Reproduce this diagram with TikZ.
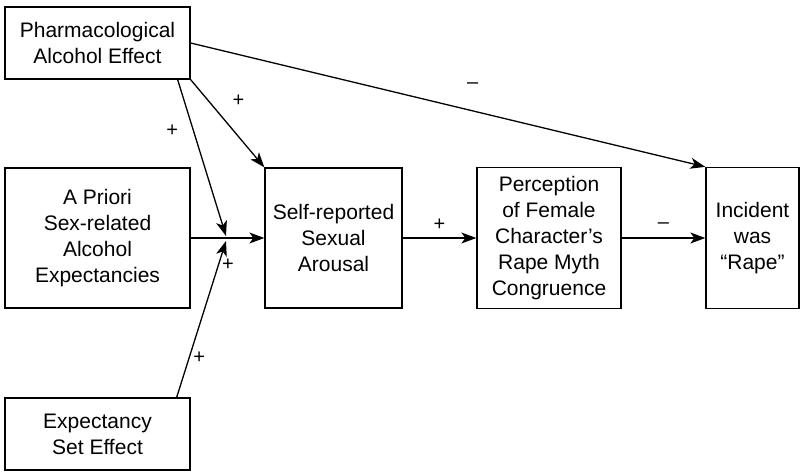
\documentclass[tikz,border=0pt]{standalone}
\usepackage{fontspec}
\setmainfont{Liberation Sans}
\usetikzlibrary{arrows.meta}

\begin{document}
\begin{tikzpicture}[x=1pt, y=-1pt,
        box/.style={draw, line width=1.3pt, align=center, inner sep=0pt, font=\fontsize{21}{26}\selectfont},
        sign/.style={inner sep=0pt, text height=0.6em, text depth=0pt, font=\fontsize{20}{24}\selectfont},
        link/.style={->, line width=1.3pt},
        >={Stealth[length=15pt, width=11pt, inset=4pt]}
    ]
    \useasboundingbox (0,0) rectangle (800,471);

    % Left column - the three predictors
    \node[box, minimum width=185pt, minimum height=72pt] (pharm) at (97.5,43) {Pharmacological\\Alcohol Effect};
    \node[box, minimum width=185pt, minimum height=140pt] (prior) at (97.5,238) {A Priori\\Sex-related\\Alcohol\\Expectancies};
    \node[box, minimum width=185pt, minimum height=72pt] (expect) at (97.5,434) {Expectancy\\Set Effect};

    % Right row - mediators and outcome
    \node[box, minimum width=137pt, minimum height=140pt] (arousal) at (333.5,238) {Self-reported\\Sexual\\Arousal};
    \node[box, minimum width=144pt, minimum height=141pt] (percep) at (549,238) {Perception\\of Female\\Character’s\\Rape Myth\\Congruence};
    \node[box, minimum width=93pt, minimum height=141pt] (incident) at (752.5,238) {Incident\\was\\“Rape”};

    \coordinate (jtop) at (226,236);
    \coordinate (jbot) at (226,241);

    \draw[link] ([xshift=-13pt]pharm.south east) -- node[sign, pos=0.344, xshift=-22pt] (s1) {+} (jtop);
    \draw[link] (pharm.south east) -- node[sign, pos=0.27, xshift=28pt] (s2) {+} (arousal.north west);
    \draw[link] (pharm.east) -- node[sign, pos=0.548, yshift=25pt] (s3) {–} (incident.north west);
    \draw[link] (prior.east) -- node[sign, pos=0.507, yshift=-29pt] (s4) {+} (arousal.west);
    \draw[link] ([xshift=-14pt]expect.north east) -- node[sign, pos=0.236, xshift=11pt] (s5) {+} (jbot);
    \draw[link] (arousal.east) -- node[sign, yshift=11pt] (s6) {+} (percep.west);
    \draw[link] (percep.east) -- node[sign, yshift=13pt] (s7) {–} (incident.west);
\end{tikzpicture}
\end{document}
